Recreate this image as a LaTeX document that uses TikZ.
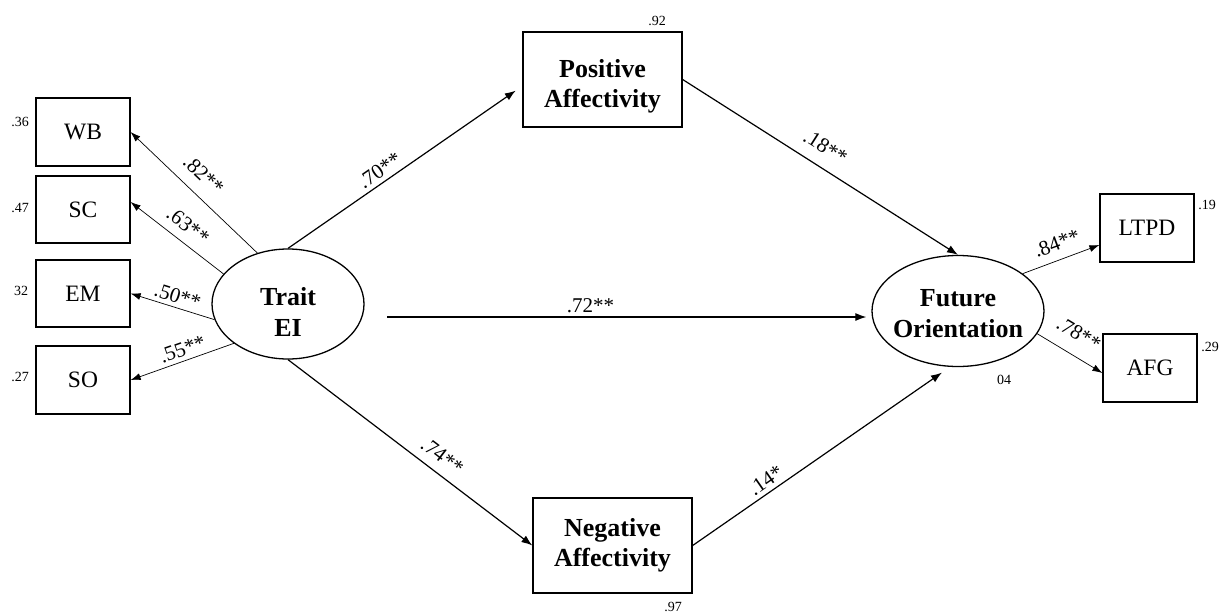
\documentclass[tikz,border=0pt]{standalone}
\usepackage{fontspec}
\setmainfont{Liberation Serif}
\usetikzlibrary{arrows.meta,shapes.geometric}
\begin{document}
\begin{tikzpicture}[x=1pt,y=-1pt]
\tikzset{
 obs/.style={draw, line width=1.2pt, rectangle, minimum width=94pt, minimum height=68pt, inner sep=0pt, font=\fontsize{23.5}{27}\selectfont},
 medbox/.style={draw, line width=1.3pt, rectangle, minimum width=159pt, minimum height=95pt, inner sep=0pt},
 latent/.style={draw, ellipse, line width=1.3pt, inner sep=0pt},
 bigtxt/.style={align=center, inner sep=0pt, font=\fontsize{26}{30.5}\selectfont\bfseries},
 res/.style={font=\fontsize{14}{16}\selectfont, inner sep=0pt},
 coef/.style={font=\fontsize{21}{25}\selectfont, inner sep=0pt, sloped, above=4pt},
 main/.style={line width=1.2pt, -{Latex[length=11pt,width=8pt]}},
 load/.style={line width=0.7pt, -{Latex[length=10pt,width=7pt]}},
}
\useasboundingbox (0,0) rectangle (1222,613);

% observed indicators (left)
\node[obs] (wb) at (83,132) {WB};
\node[obs, minimum height=67pt] (sc) at (83,209.5) {SC};
\node[obs, minimum height=67pt] (em) at (83,293.5) {EM};
\node[obs] (so) at (83,380) {SO};
% observed indicators (right)
\node[obs] (ltpd) at (1147,228) {LTPD};
\node[obs] (afg) at (1150,368) {AFG};

% mediators
\node[medbox, label={[bigtxt, yshift=-7pt]center:Positive\\Affectivity}] (pa) at (602.5,79.5) {};
\node[medbox, label={[bigtxt]center:Negative\\Affectivity}] (na) at (612.5,545.5) {};

% latent variables
\node[latent, minimum width=152pt, minimum height=110pt, label={[bigtxt, yshift=-8pt]center:Trait\\EI}] (te) at (288,304) {};
\node[latent, minimum width=172pt, minimum height=111pt, label={[bigtxt, yshift=-2.5pt]center:Future\\Orientation}] (fo) at (958,311) {};

% residual values
\node[res] (r1) at (20,122) {.36};
\node[res] (r2) at (20,208) {.47};
\node[res] (r3) at (21,291) {32};
\node[res] (r4) at (20,377) {.27};
\node[res] (r5) at (657,21) {.92};
\node[res] (r6) at (673,607) {.97};
\node[res] (r7) at (1207,205) {.19};
\node[res] (r8) at (1210,347) {.29};
\node[res] (r9) at (1004,380) {04};

% loadings, left
\draw[load] (te.121.8) -- (wb.east) node[coef, pos=0.53, above=8pt] {.82**};
\draw[load] (te.155.2) -- ([yshift=7.5pt]sc.east) node[coef, pos=0.49, above=5pt] {.63**};
\draw[load] (te.192.8) -- (em.east) node[coef, pos=0.48] {.50**};
\draw[load] (te.216.2) -- (so.east) node[coef, pos=0.46] {.55**};
% loadings, right
\draw[load] (fo.30.3) -- ([yshift=-17pt]ltpd.west) node[coef, pos=0.52, above=5pt] {.84**};
\draw[load] (fo.344.8) -- ([yshift=-5pt]afg.west) node[coef, pos=0.47, above=10pt] {.78**};

% structural paths
\coordinate (mstart) at (387,317);
\draw[main, shorten >=8pt] (te.north) -- ([yshift=-6.5pt]pa.west) node[coef, pos=0.42] {.70**};
\draw[main] (te.south) -- (na.west) node[coef, pos=0.59, above=5pt] {.74**};
\draw[main] (pa.east) -- (fo.north) node[coef, pos=0.48, above=8pt] {.18**};
\draw[main, shorten >=10pt] (na.east) -- (fo.262) node[coef, pos=0.31] {.14*};
\draw[main, shorten >=5pt] (mstart) -- (fo.west |- mstart) node[coef, pos=0.42] {.72**};
\end{tikzpicture}
\end{document}
